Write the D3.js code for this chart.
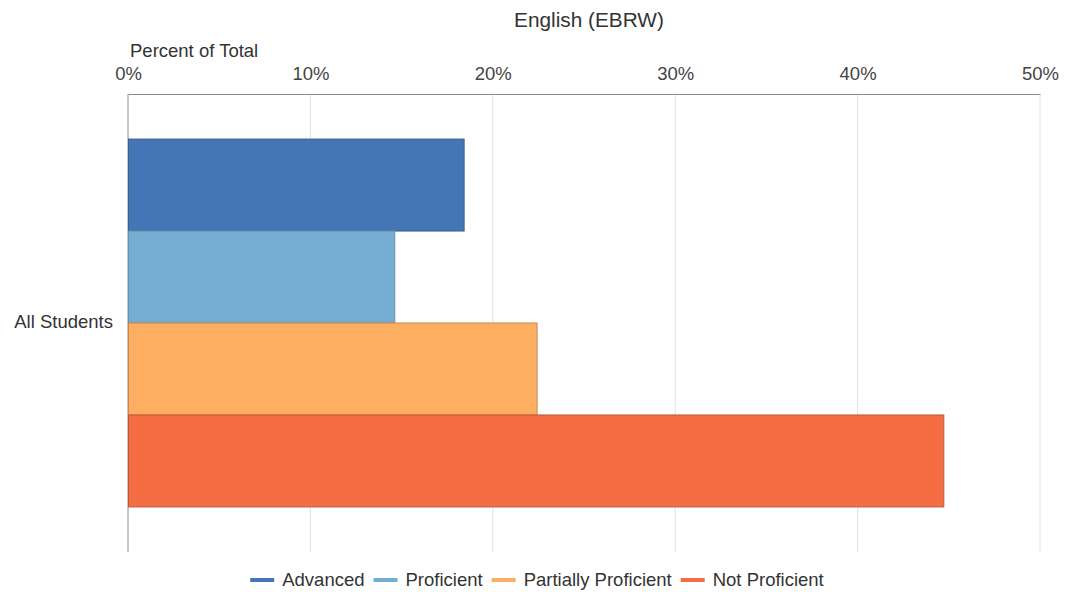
<!DOCTYPE html>
<html><head><meta charset="utf-8">
<script src="https://cdn.jsdelivr.net/npm/d3@7"></script>
<style>body{margin:0;background:#fff;} text{font-family:"Liberation Sans",Arial,sans-serif;}</style>
</head><body>
<svg id="c" width="1069" height="592"></svg>
<script>
const categories = ["All Students"];
const seriesNames = ["Advanced", "Proficient", "Partially Proficient", "Not Proficient"];
const seriesValues = [18.4, 14.6, 22.4, 44.7];
const seriesColors = ["#4475B4", "#74ADD1", "#FDAE61", "#F46D43"];
const seriesStroke = ["#3a5f8f", "#6592b0", "#c8894e", "#b85a3c"];
const xTicks = [0, 10, 20, 30, 40, 50];
const title = "English (EBRW)";
const axisTitle = "Percent of Total";

const FS = 18.5;
const svg = d3.select("#c");
const m = {left:128, right:1040, top:94, bottom:552};
const x = d3.scaleLinear().domain([0,50]).range([m.left, m.right]);
const y = d3.scaleBand().domain(categories).range([m.top, m.bottom]).paddingInner(0).paddingOuter(0);
const inner = d3.scaleBand().domain(seriesNames).range([0, y.bandwidth()]).paddingOuter(0.49).paddingInner(0);

// gridlines
svg.append("g").selectAll("line").data(xTicks.slice(1)).join("line")
  .attr("x1", d=>x(d)).attr("x2", d=>x(d)).attr("y1", m.top).attr("y2", m.bottom)
  .attr("stroke", "#e0e0e0").attr("stroke-width", 1);

// top axis
const ax = d3.axisTop(x).tickValues(xTicks).tickFormat(d=>d+"%").tickSize(0).tickPadding(14);
const axg = svg.append("g").attr("transform", `translate(0,${m.top})`).call(ax);
axg.select(".domain").attr("stroke", "#8a8a8a");
axg.selectAll("text").attr("font-size", FS).attr("fill", "#444").attr("font-family", "Liberation Sans, Arial, sans-serif");

// left axis line
svg.append("line").attr("x1", m.left).attr("x2", m.left).attr("y1", m.top).attr("y2", m.bottom)
  .attr("stroke", "#8a8a8a");

// bars
const rows = seriesNames.map((n,i)=>({name:n, value:seriesValues[i], color:seriesColors[i], stroke:seriesStroke[i]}));
categories.forEach(cat=>{
  svg.append("g").selectAll("rect").data(rows).join("rect")
    .attr("x", x(0)+0.5)
    .attr("y", d=>y(cat)+inner(d.name))
    .attr("width", d=>x(d.value)-x(0))
    .attr("height", inner.bandwidth())
    .attr("fill", d=>d.color)
    .attr("stroke", d=>d.stroke).attr("stroke-width", 1);
  svg.append("text").attr("x", 113).attr("y", y(cat)+y.bandwidth()/2)
    .attr("text-anchor","end").attr("dominant-baseline","middle")
    .attr("font-size", FS).attr("fill", "#333").text(cat);
});

// titles
svg.append("text").attr("x", 589).attr("y", 27).attr("text-anchor","middle")
  .attr("font-size", 20.8).attr("fill", "#333").text(title);
svg.append("text").attr("x", 130).attr("y", 57)
  .attr("font-size", FS).attr("fill", "#333").text(axisTitle);

// legend
const lg = svg.append("g");
let lx = 0;
const items = [];
const tmp = svg.append("text").attr("font-size", FS);
rows.forEach(r=>{ tmp.text(r.name); const w = tmp.node().getComputedTextLength(); items.push({r, w}); });
tmp.remove();
const sw = 24, gapSwText = 8, gapItem = 9;
const total = d3.sum(items, d=>sw+gapSwText+d.w) + gapItem*(items.length-1);
lx = 537 - total/2;
items.forEach(it=>{
  lg.append("line").attr("x1", lx).attr("x2", lx+sw).attr("y1", 580).attr("y2", 580)
    .attr("stroke", it.r.color).attr("stroke-width", 4);
  lg.append("text").attr("x", lx+sw+gapSwText).attr("y", 586).attr("font-size", FS)
    .attr("fill", "#333").text(it.r.name);
  lx += sw+gapSwText+it.w+gapItem;
});
</script>
</body></html>
